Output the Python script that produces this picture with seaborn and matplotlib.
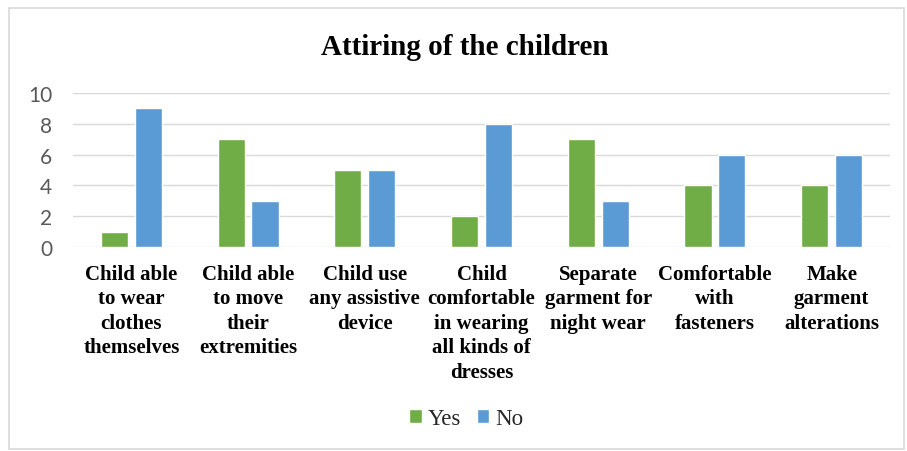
import matplotlib
matplotlib.use("Agg")
import matplotlib.pyplot as plt
import seaborn as sns
import pandas as pd
from matplotlib.patches import Rectangle

categories = [
    "Child able\nto wear\nclothes\nthemselves",
    "Child able\nto move\ntheir\nextremities",
    "Child use\nany assistive\ndevice",
    "Child\ncomfortable\nin wearing\nall kinds of\ndresses",
    "Separate\ngarment for\nnight wear",
    "Comfortable\nwith\nfasteners",
    "Make\ngarment\nalterations",
]
yes_values = [1, 7, 5, 2, 7, 4, 4]
no_values = [9, 3, 5, 8, 3, 6, 6]
series_names = ["Yes", "No"]
colors = ["#70AD47", "#5B9BD5"]
y_ticks = [0, 2, 4, 6, 8, 10]

df = pd.DataFrame({
    "category": categories * 2,
    "answer": [series_names[0]] * len(categories) + [series_names[1]] * len(categories),
    "count": yes_values + no_values,
})

sns.set_theme(style="white")
serif = ["Liberation Serif", "DejaVu Serif"]

fig = plt.figure(figsize=(9.07, 4.52), dpi=100)
fig.patch.set_facecolor("white")
fig.add_artist(Rectangle((0.010, 0.004), 0.987, 0.976, transform=fig.transFigure,
                         fill=False, edgecolor="#D9D9D9", linewidth=1.2))

ax = fig.add_axes([73 / 907, 1 - 248 / 452, (890 - 73) / 907, (248 - 94) / 452])
sns.barplot(data=df, x="category", y="count", hue="answer", palette=colors,
            width=0.58, gap=0.2, ax=ax, legend=True, saturation=1)

ax.set_ylim(0, 10)
ax.set_yticks(y_ticks)
ax.set_yticklabels([str(t) for t in y_ticks], fontsize=15, color="#595959",
                   family=["Lato", "DejaVu Sans"])
ax.yaxis.grid(True, color="#D9D9D9", linewidth=1)
ax.set_axisbelow(True)
for s in ax.spines.values():
    s.set_visible(False)
ax.tick_params(axis="both", length=0)
ax.tick_params(axis="y", pad=15)
ax.tick_params(axis="x", pad=12)
ax.set_xlabel("")
ax.set_ylabel("")
ax.set_xlim(-0.5, len(categories) - 0.5)
for lab in ax.get_xticklabels():
    lab.set_fontfamily(serif)
    lab.set_fontweight("bold")
    lab.set_fontsize(15)
    lab.set_color("#000000")
    lab.set_linespacing(1.3)
    lab.set_verticalalignment("top")

fig.text(465 / 907, 1 - 48 / 452, "Attiring of the children", ha="center", va="center",
         fontsize=21, fontweight="bold", family=serif, color="#000000")

handles, labels = ax.get_legend_handles_labels()
ax.legend_.remove()
fig.legend(handles, labels, loc="center", bbox_to_anchor=(466 / 907, 1 - 420 / 452), ncol=2,
           frameon=False, prop={"family": serif, "size": 16.5}, handlelength=0.55,
           handleheight=0.55, handletextpad=0.25, columnspacing=0.7)

fig.savefig("out.png", dpi=100)
